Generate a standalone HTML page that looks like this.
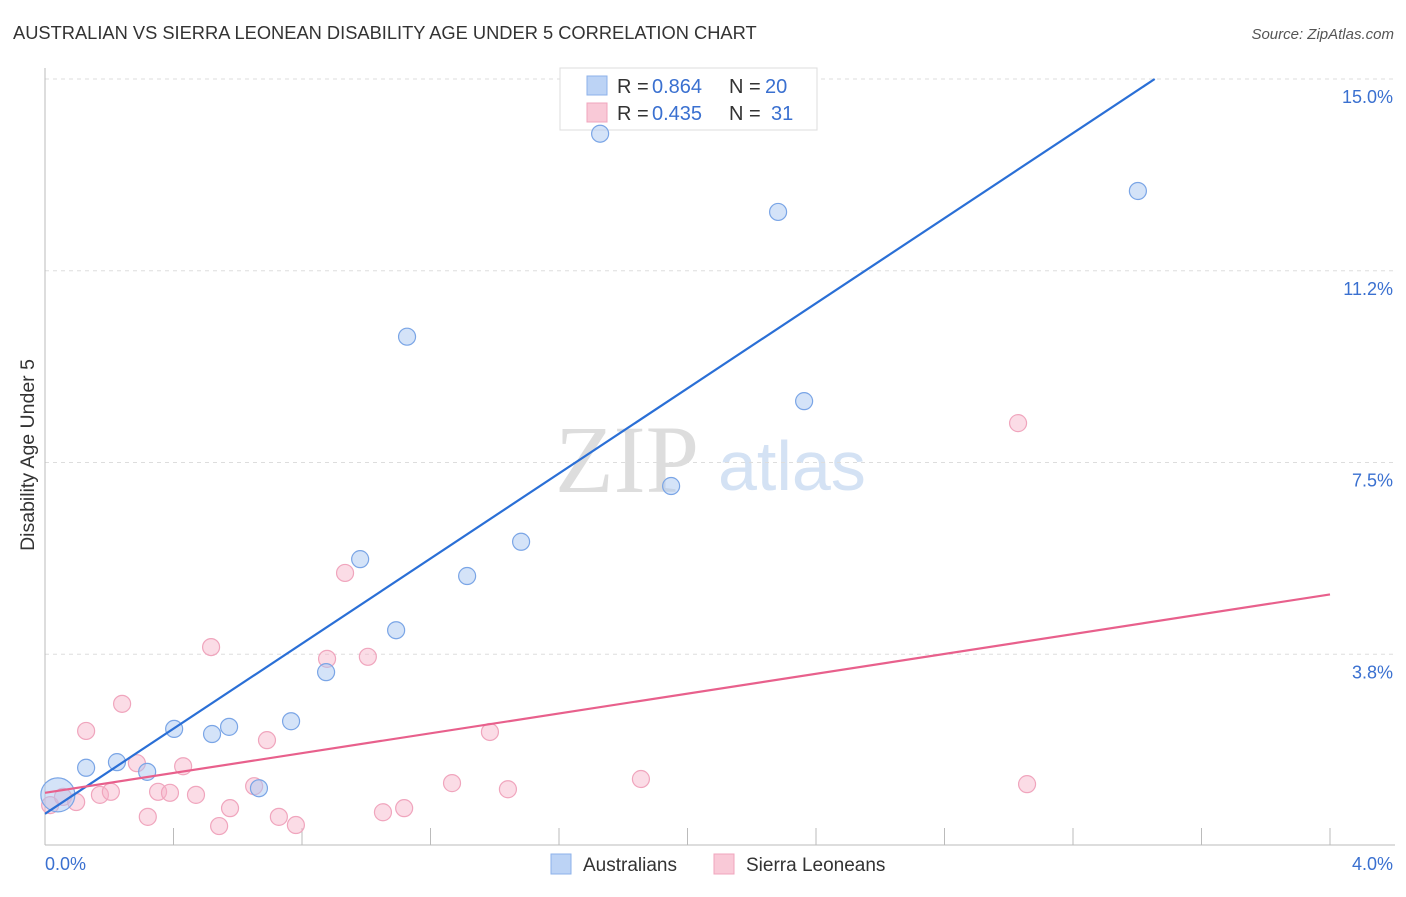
<!DOCTYPE html>
<html><head><meta charset="utf-8"><style>
body{margin:0;background:#fff;font-family:"Liberation Sans",sans-serif}
</style></head><body>
<svg id="chart" width="1406" height="892" xmlns="http://www.w3.org/2000/svg" font-family="Liberation Sans, sans-serif">
<text x="13" y="39" font-size="18.3" fill="#333">AUSTRALIAN VS SIERRA LEONEAN DISABILITY AGE UNDER 5 CORRELATION CHART</text>
<text x="1394" y="39" font-size="15" fill="#555" text-anchor="end" font-style="italic">Source: ZipAtlas.com</text>
<text x="555" y="492" font-size="96" fill="#ddd" font-family="Liberation Serif, serif">ZIP</text>
<text x="718" y="490" font-size="70" fill="#d4e2f4">atlas</text>
<text transform="translate(34,455) rotate(-90)" font-size="19.5" fill="#333" text-anchor="middle">Disability Age Under 5</text>
<g id="grid"></g>
<g>
<rect x="560" y="68" width="257" height="62" fill="#fff" stroke="#ddd"/>
<rect x="587" y="76" width="20" height="19" fill="#bcd3f5" stroke="#8db2ea"/>
<rect x="587" y="103" width="20" height="19" fill="#f9c9d7" stroke="#f0a5bd"/>
<text x="617" y="93" font-size="20" fill="#333">R =</text>
<text x="652" y="93" font-size="20" fill="#3a70d0">0.864</text>
<text x="729" y="93" font-size="20" fill="#333">N =</text>
<text x="765" y="93" font-size="20" fill="#3a70d0">20</text>
<text x="617" y="120" font-size="20" fill="#333">R =</text>
<text x="652" y="120" font-size="20" fill="#3a70d0">0.435</text>
<text x="729" y="120" font-size="20" fill="#333">N =</text>
<text x="771" y="120" font-size="20" fill="#3a70d0">31</text>
</g>
<g id="marks"></g>
<g>
<rect x="551" y="854" width="20" height="20" fill="#bcd3f5" stroke="#8db2ea"/>
<text x="583" y="871" font-size="19" fill="#333">Australians</text>
<rect x="714" y="854" width="20" height="20" fill="#f9c9d7" stroke="#f0a5bd"/>
<text x="746" y="871" font-size="19" fill="#333">Sierra Leoneans</text>
</g>
</svg>
<script>
const ausX=[0.040,0.128,0.224,0.318,0.402,0.520,0.573,0.666,0.766,0.875,0.981,1.093,1.127,1.314,1.482,1.728,1.949,2.282,2.363,3.402];
const ausY=[1.00,1.53,1.64,1.45,2.29,2.19,2.33,1.13,2.44,3.40,5.61,4.22,9.96,5.28,5.95,13.93,7.04,12.40,8.70,12.81];
const slX=[0.016,0.056,0.097,0.128,0.171,0.205,0.240,0.286,0.320,0.352,0.389,0.430,0.470,0.517,0.542,0.576,0.651,0.691,0.728,0.781,0.878,0.934,1.005,1.052,1.118,1.267,1.385,1.441,1.855,3.029,3.057];
const slY=[0.80,0.96,0.86,2.25,1.00,1.06,2.78,1.62,0.57,1.06,1.04,1.56,1.00,3.89,0.39,0.74,1.17,2.07,0.57,0.41,3.66,5.34,3.70,0.66,0.74,1.23,2.23,1.11,1.31,8.27,1.21];
const ausFit=[0.63,4.16];   // intercept, slope
const slFit=[1.04,0.97];
const yTicks=[3.75,7.5,11.25,15];
const yTickLabels=["3.8%","7.5%","11.2%","15.0%"];
const xTicks=[0.4,0.8,1.2,1.6,2.0,2.4,2.8,3.2,3.6,4.0];
const NS="http://www.w3.org/2000/svg";
const sx=v=>45+v/4*1285, sy=v=>846-v/15*767;
function mk(t,a,p){const e=document.createElementNS(NS,t);for(const k in a)e.setAttribute(k,a[k]);p.appendChild(e);return e;}
const grid=document.getElementById('grid'),marks=document.getElementById('marks');
yTicks.forEach((v,i)=>{
 const l=mk('line',{x1:45,x2:1395,y1:sy(v),y2:sy(v),stroke:'#ddd','stroke-dasharray':'4,4'},grid);
 
 
 const t=mk('text',{x:1393,y:sy(v)+24,'font-size':18,fill:'#3a70d0','text-anchor':'end'},grid);t.textContent=yTickLabels[i];
 
 
});
mk('line',{x1:45,x2:45,y1:68,y2:845,stroke:'#bbb'},grid);
mk('line',{x1:45,x2:1395,y1:845,y2:845,stroke:'#bbb'},grid);
xTicks.forEach(v=>{const l=mk('line',{x1:sx(v),x2:sx(v),y1:828,y2:845,stroke:'#bbb'},grid);
 
 });
let t=mk('text',{x:45,y:870,'font-size':18,fill:'#3a70d0'},grid);t.textContent='0.0%';


t=mk('text',{x:1393,y:870,'font-size':18,fill:'#3a70d0','text-anchor':'end'},grid);t.textContent='4.0%';


slX.forEach((x,i)=>{const c=mk('circle',{cx:sx(x),cy:sy(slY[i]),r:8.5,fill:'rgba(246,178,200,0.45)',stroke:'#f0a5bd','stroke-width':1.2},marks);
 
 });
ausX.forEach((x,i)=>{const c=mk('circle',{cx:sx(x),cy:sy(ausY[i]),r:i===0?17:8.5,fill:'rgba(170,200,242,0.5)',stroke:'#7aa5e6','stroke-width':1.2},marks);
 
 });
const bx2=(15-ausFit[0])/ausFit[1];
let ln=mk('line',{x1:sx(0),y1:sy(ausFit[0]),x2:sx(bx2),y2:sy(15),stroke:'#2a6fd6','stroke-width':2.2},marks);


ln=mk('line',{x1:sx(0),y1:sy(slFit[0]),x2:sx(4),y2:sy(slFit[0]+slFit[1]*4),stroke:'#e8608c','stroke-width':2.2},marks);


</script>
</body></html>
